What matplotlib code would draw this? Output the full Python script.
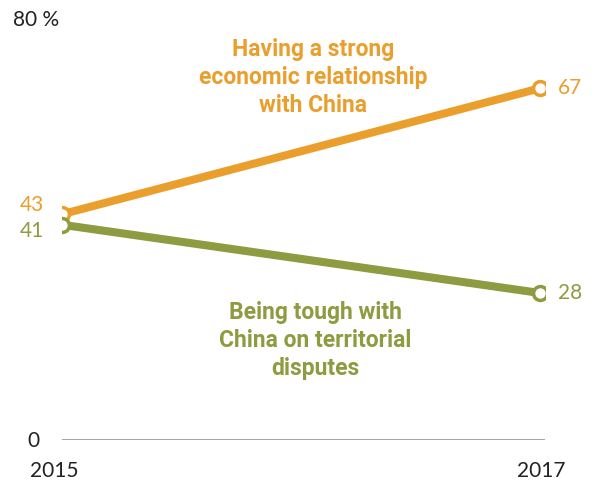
import matplotlib
matplotlib.use("Agg")
import matplotlib.pyplot as plt

years = [2015, 2017]
economic = [43, 67]
tough = [41, 28]
economic_label = "Having a strong\neconomic relationship\nwith China"
tough_label = "Being tough with\nChina on territorial\ndisputes"

ORANGE = "#EA9F2D"
GREEN = "#8E9B40"
GRAY = "#A6A6A6"

W, H = 596, 483
fig = plt.figure(figsize=(W / 100, H / 100), dpi=100)
x0, x1 = 62, 545
y0, y80 = 440, 20
ax = fig.add_axes([x0 / W, (H - y0) / H, (x1 - x0) / W, (y0 - y80) / H])
ax.set_xlim(2015, 2015 + 2 * (x1 - x0) / (540 - 62))
ax.set_ylim(0, 80)
ax.axis("off")
ax.axhline(0, color=GRAY, lw=2.2, zorder=1)

for vals, c in [(economic, ORANGE), (tough, GREEN)]:
    ax.plot(years, vals, color=c, lw=5.8, solid_capstyle="butt", zorder=2,
            marker="o", markersize=10, markerfacecolor="white",
            markeredgecolor=c, markeredgewidth=2.5)

ax.text(2015 - 0.075, economic[0] + 1.8, str(economic[0]), color=ORANGE,
        fontsize=15, ha="right", va="center", family="Lato")
ax.text(2015 - 0.075, tough[0] - 1.2, str(tough[0]), color=GREEN,
        fontsize=15, ha="right", va="center", family="Lato")
ax.text(2017 + 0.075, economic[1], str(economic[1]), color=ORANGE,
        fontsize=15, ha="left", va="center", family="Lato")
ax.text(2017 + 0.075, tough[1], str(tough[1]), color=GREEN,
        fontsize=15, ha="left", va="center", family="Lato")

ax.text(2016.05, 69.1, economic_label, color=ORANGE, fontsize=16.5,
        fontweight="bold", ha="center", va="center", family="Roboto",
        linespacing=1.27)
ax.text(2016.06, 19.0, tough_label, color=GREEN, fontsize=16.5,
        fontweight="bold", ha="center", va="center", family="Roboto",
        linespacing=1.27)

fig.text(13 / W, 1 - 20 / H, "80 %", fontsize=15, ha="left", va="center",
         family="Lato", color="#222222")
fig.text(27 / W, 1 - 441 / H, "0", fontsize=15, ha="left", va="center",
         family="Lato", color="#222222")
fig.text(30 / W, 1 - 471 / H, "2015", fontsize=15, ha="left", va="center",
         family="Lato", color="#222222")
fig.text(565 / W, 1 - 471 / H, "2017", fontsize=15, ha="right", va="center",
         family="Lato", color="#222222")

fig.savefig("out.png", dpi=100)
